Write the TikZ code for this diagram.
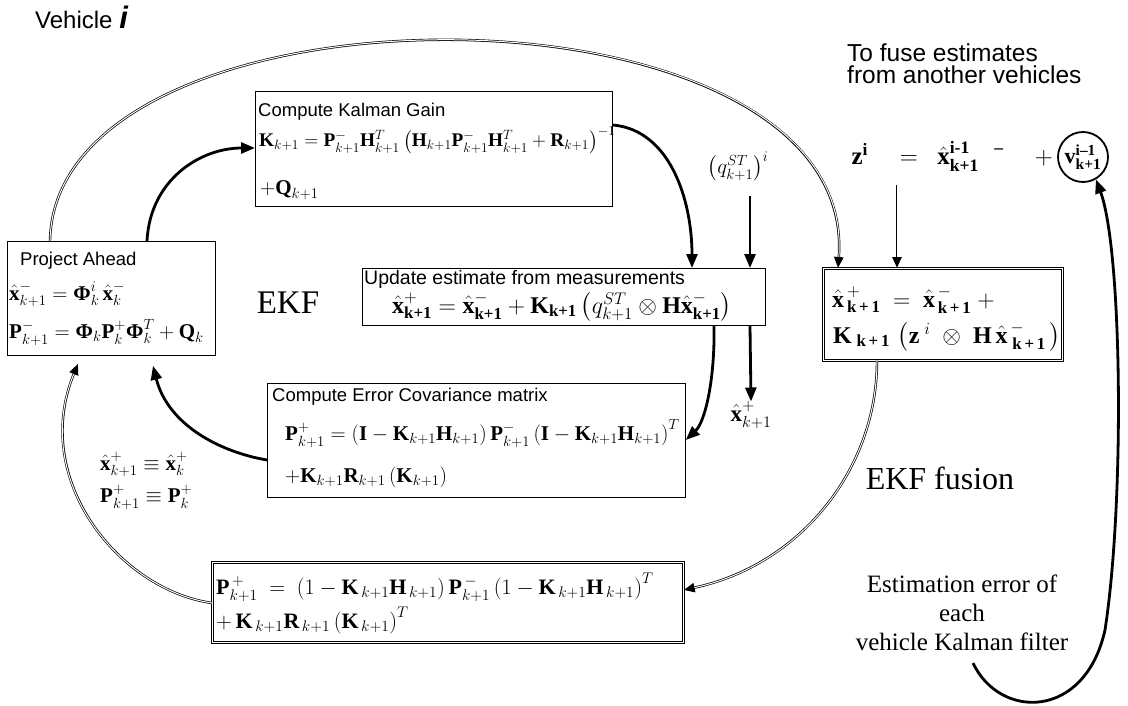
\RequirePackage{fix-cm}
\documentclass[tikz,border=0pt]{standalone}
\usepackage{amsmath,amssymb}
\usepackage{fontspec}
\setmainfont{Liberation Serif}
\newfontfamily\arialfont{Liberation Sans}
\usetikzlibrary{arrows.meta, positioning, calc}

\newcommand{\ttlfont}{\arialfont\fontsize{18.5}{20}\selectfont}
\newcommand{\eqfont}{\fontsize{21}{24}\selectfont}
\newcommand{\bv}[1]{\text{\normalfont\bfseries #1}}
\newcommand{\xh}{\hat{\bv{x}}}
\newcommand{\bPhi}{\bv{Φ}}

\begin{document}
\begin{tikzpicture}[x=1pt, y=-1pt,
		box/.style={draw, line width=0.8pt, anchor=north west, inner sep=0pt},
		dbox/.style={box, double, double distance=1.5pt, line width=0.7pt},
		ttl/.style={anchor=base west, inner sep=0pt, font=\ttlfont},
		eqn/.style={anchor=base west, inner sep=0pt, font=\eqfont},
		lbl/.style={inner sep=0pt},
		flow/.style={line width=2.8pt, -{Triangle[length=14pt, width=11pt]}},
		dflow/.style={line width=2.4pt, -{Triangle[length=11pt, width=9pt]},
			postaction={draw=white, line width=1pt, -, shorten >=11pt}}
		]
		\useasboundingbox (0,0) rectangle (1128,706);
		
		% Headings
		\node[lbl, anchor=base west] (veh) at (35,29)
		{\arialfont\fontsize{24}{28}\selectfont Vehicle \fontsize{31}{31}\selectfont\textbf{\textit{i}}};
		\node[lbl, anchor=north west, align=left, font=\arialfont\fontsize{24.5}{22}\selectfont]
		(fuse) at (847,44) {To fuse estimates\\from another vehicles};
		
		% Compute Kalman Gain
		\node[box, minimum width=357, minimum height=115] (kal) at (255,91) {};
		\node[ttl] (kalT) at (258,117) {Compute Kalman Gain};
		\node[eqn, font=\fontsize{19.3}{24}\selectfont] (kalE) at (259,147)
		{$\bv{K}_{k+1}=\bv{P}^-_{k+1}\bv{H}^T_{k+1}\left(\bv{H}_{k+1}\bv{P}^-_{k+1}\bv{H}^T_{k+1}+\bv{R}_{k+1}\right)^{-1}$};
		\node[eqn] (kalQ) at (260,194) {$+\bv{Q}_{k+1}$};
		
		% Project Ahead
		\node[box, minimum width=208, minimum height=114] (proj) at (7,241) {};
		\node[ttl] (projT) at (20,265) {Project Ahead};
		\node[eqn] (projX) at (9,300) {$\xh^-_{k+1}=\bPhi^i_k\,\xh^-_k$};
		\node[eqn] (projP) at (9,338) {$\bv{P}^-_{k+1}=\bPhi_k\bv{P}^+_k\bPhi^T_k+\bv{Q}_k$};
		
		% Update estimate
		\node[box, minimum width=403, minimum height=57] (upd) at (362,268) {};
		\node[ttl, font=\arialfont\fontsize{19.5}{22}\selectfont] (updT) at (364,284) {Update estimate from measurements};
		\node[eqn, font=\fontsize{24}{24}\selectfont] (updE) at (392,313)
		{$\xh^+_{\bv{k+1}}=\xh^-_{\bv{k+1}}+\bv{K}_{\bv{k+1}}\left(q^{ST}_{k+1}\otimes\bv{H}\xh^-_{\bv{k+1}}\right)$};
		
		% Error covariance
		\node[box, minimum width=418, minimum height=114] (cov) at (267,383) {};
		\node[ttl] (covT) at (272,401) {Compute Error Covariance matrix};
		\node[eqn, font=\fontsize{21}{24}\selectfont] (covE) at (285,440)
		{$\bv{P}^+_{k+1}=\left(\bv{I}-\bv{K}_{k+1}\bv{H}_{k+1}\right)\bv{P}^-_{k+1}\left(\bv{I}-\bv{K}_{k+1}\bv{H}_{k+1}\right)^T$};
		\node[eqn, font=\fontsize{21}{24}\selectfont] (covK) at (285,482) {$+\bv{K}_{k+1}\bv{R}_{k+1}\left(\bv{K}_{k+1}\right)$};
		
		% EKF fusion update
		\node[dbox, minimum width=239, minimum height=92] (fus) at (823,268) {};
		\node[eqn, font=\fontsize{24}{24}\selectfont] (fusX) at (832,307)
		{$\xh^{\,+}_{\,\bv{k\,+\,1}}\ =\ \xh^{\,-}_{\,\bv{k\,+\,1}}\ +$};
		\node[eqn, font=\fontsize{24}{24}\selectfont] (fusK) at (833,343)
		{$\bv{K}_{\;\bv{k\,+\,1}}\,\left(\bv{z}^{\;i}\;\otimes\;\bv{H}\,\xh^{\,-}_{\;\bv{k\,+\,1}}\,\right)$};
		
		% Fused covariance
		\node[dbox, minimum width=471, minimum height=80] (bot) at (212,562) {};
		\node[eqn, font=\fontsize{22}{24}\selectfont] (botP) at (216,594)
		{$\bv{P}^{\,+}_{k+1}\ =\ \left(1-\bv{K}_{\,k+1}\bv{H}_{\,k+1}\right)\bv{P}^{\,-}_{k+1}\left(1-\bv{K}_{\,k+1}\bv{H}_{\,k+1}\right)^T$};
		\node[eqn, font=\fontsize{22}{24}\selectfont] (botK) at (216,628)
		{$+\,\bv{K}_{\,k+1}\bv{R}_{\,k+1}\left(\bv{K}_{\,k+1}\right)^T$};
		
		% Inputs and outputs
		\node[draw, circle, line width=1.8pt, inner sep=0pt, minimum size=50] (vc) at (1083,157)
		{\fontsize{22}{22}\selectfont$\bv{v}^{\bv{i--1}}_{\bv{k+1}}$};
		\node[lbl, anchor=base east, font=\fontsize{25}{24}\selectfont] (zeq) at (1053,165)
		{$\bv{z}^{\bv{i}}\quad=\ \ \xh^{\bv{i-1}\quad\bv{--}}_{\bv{k+1}}\quad\ +$};
		\node[lbl] (qst) at (738,166) {\fontsize{21}{24}\selectfont$\left(q^{ST}_{k+1}\right)^{i}$};
		\node[lbl] (xout) at (751,415) {\fontsize{23}{24}\selectfont$\xh^+_{k+1}$};
		\node[lbl, anchor=north west, align=left, font=\fontsize{21}{32}\selectfont] (eqv) at (100,452)
		{$\xh^+_{k+1}\equiv\xh^+_k$\\$\bv{P}^+_{k+1}\equiv\bv{P}^+_k$};
		
		% Labels
		\node[lbl] (ekf) at (288,303) {\fontsize{33}{36}\selectfont EKF};
		\node[lbl] (ekff) at (940,478) {\fontsize{32}{36}\selectfont EKF fusion};
		\node[lbl, anchor=north, align=center, font=\fontsize{25}{29}\selectfont] (est) at (962,575)
		{Estimation error of\\each\\vehicle Kalman filter};
		
		% EKF loop
		\draw[flow] (147,0 |- proj.north) .. controls (150,180) and (200,148) .. (kal.west |- 0,148);
		\draw[flow] (kal.east |- 0,125) .. controls (670,130) and (692,200) .. (692,0 |- upd.north);
		\draw[flow] (750,196) -- (750,0 |- upd.north);
		\draw[flow] (750,0 |- upd.south) -- (xout.north);
		\draw[flow] (714,0 |- upd.south) .. controls (715,380) and (705,422) .. (cov.east |- 0,440);
		\draw[flow] (cov.west |- 0,460) .. controls (220,452) and (168,425) .. ($(153,0 |- proj.south)+(0,10)$);
		
		% Fusion paths
		\draw[dflow] (50,0 |- proj.north) .. controls (55,-30) and (860,-30) .. (838,0 |- fus.north);
		\draw[dflow] (897,185) -- (897,0 |- fus.north);
		\draw[dflow] (877,0 |- fus.south) .. controls (877,470) and (800,565) .. (bot.east |- 0,590);
		\draw[dflow] (bot.west |- 0,603) .. controls (120,590) and (30,480) .. ($(78,0 |- proj.south)+(0,8)$);
		
		% Estimation error feedback
		\coordinate (ee) at (973,663);
		\draw[flow] (ee) .. controls (1000,720) and (1085,720) .. (1105,630)
		.. controls (1125,500) and (1122,250) .. (vc.-60);
	\end{tikzpicture}
\end{document}
